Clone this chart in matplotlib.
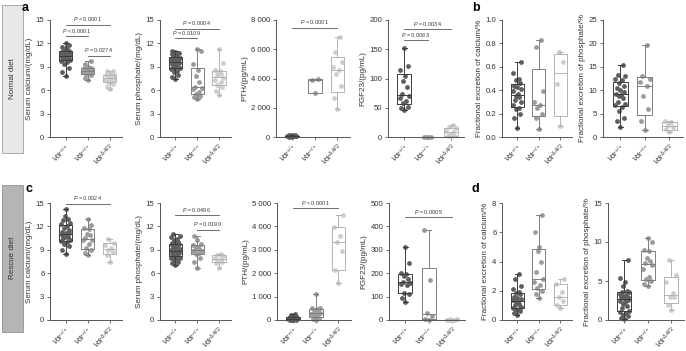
import numpy as np
import matplotlib
matplotlib.use("Agg")
import matplotlib.pyplot as plt
from matplotlib.patches import Rectangle

plt.rcParams['font.family'] = ['Liberation Sans', 'DejaVu Sans']
plt.rcParams['mathtext.fontset'] = 'custom'
plt.rcParams['mathtext.rm'] = 'Liberation Sans'
plt.rcParams['mathtext.it'] = 'Liberation Sans:italic'
plt.rcParams['mathtext.bf'] = 'Liberation Sans:bold'

groups = [r'$\mathit{Vdr}^{+/+}$', r'$\mathit{Vdr}^{-/-}$', r'$\mathit{Vdr}^{\Delta AF2}$']

# normal diet
ca_normal = [
    [7.8, 8.3, 8.8, 9.3, 9.6, 9.8, 9.9, 10.0, 10.0, 10.1, 10.2, 10.3, 10.4, 10.4, 10.5, 10.5,
     10.6, 10.7, 10.8, 10.9, 11.0, 11.1, 11.2, 11.4, 11.6, 11.8, 12.0],
    [7.3, 7.6, 7.9, 8.1, 8.2, 8.3, 8.4, 8.5, 8.5, 8.6, 8.7, 8.8, 8.9, 9.0, 9.3, 9.7],
    [6.1, 6.4, 6.8, 7.0, 7.1, 7.3, 7.4, 7.5, 7.6, 7.7, 7.8, 7.9, 8.0, 8.2, 8.4, 8.5],
]
pi_normal = [
    [7.5, 7.7, 8.0, 8.3, 8.5, 8.7, 8.8, 8.9, 9.0, 9.2, 9.3, 9.4, 9.5, 9.6, 9.6, 9.7, 9.8,
     9.9, 10.0, 10.1, 10.2, 10.2, 10.3, 10.5, 10.6, 10.8, 10.9, 11.0],
    [4.9, 5.1, 5.3, 5.5, 5.8, 6.1, 6.3, 6.4, 7.0, 7.8, 8.6, 9.4, 11.0, 11.3],
    [5.4, 5.9, 6.4, 6.7, 7.0, 7.3, 7.6, 7.9, 8.1, 8.2, 8.5, 8.6, 9.5, 11.3],
]
pth_normal = [
    [20, 30, 40, 45, 50, 55, 60, 65, 70, 75, 80, 90, 100, 110, 130, 160],
    [3000, 3900, 3950],
    [1900, 2700, 3500, 4300, 4600, 4800, 5100, 5840, 6850],
]
fgf_normal = [
    [47, 50, 52, 58, 62, 66, 70, 74, 85, 95, 105, 115, 122, 152],
    [0, 0, 0, 0],
    [1, 2, 3, 5, 8, 10, 15, 17, 20],
]
feca_normal = [
    [0.08, 0.16, 0.2, 0.24, 0.25, 0.27, 0.3, 0.32, 0.34, 0.35, 0.37, 0.39, 0.41, 0.43, 0.44,
     0.46, 0.49, 0.5, 0.55, 0.64],
    [0.07, 0.16, 0.2, 0.25, 0.27, 0.3, 0.39, 0.77, 0.83],
    [0.09, 0.45, 0.64, 0.73],
]
fepi_normal = [
    [2.2, 3.5, 4.0, 5.5, 6.5, 6.8, 7.0, 7.5, 8.3, 8.8, 9.0, 9.2, 9.6, 10.0, 10.5, 11.0, 11.6,
     12.2, 12.5, 13.0, 13.3, 15.4],
    [1.6, 3.4, 6.0, 8.8, 10.9, 11.8, 12.5, 13.1, 19.6],
    [1.1, 1.7, 2.2, 2.6, 3.1, 3.5],
]

# rescue diet
ca_rescue = [
    [8.4, 9.0, 9.5, 9.8, 10.0, 10.1, 10.3, 10.5, 10.6, 10.7, 10.8, 10.9, 11.1, 11.2, 11.3,
     11.5, 11.8, 12.0, 12.3, 12.5, 12.8, 13.0, 13.3, 14.2],
    [8.3, 8.6, 9.0, 9.2, 9.8, 10.2, 10.3, 10.5, 10.9, 11.0, 11.7, 11.8, 12.2, 13.0],
    [7.4, 8.3, 8.7, 9.0, 9.2, 9.6, 9.9, 10.4],
]
pi_rescue = [
    [7.0, 7.3, 7.5, 7.7, 7.8, 7.9, 8.0, 8.1, 8.2, 8.3, 8.4, 8.5, 8.6, 8.7, 8.8, 8.8, 8.9, 8.9,
     9.0, 9.1, 9.2, 9.3, 9.4, 9.5, 9.6, 9.7, 9.8, 9.9, 10.0, 10.2, 10.4, 10.6, 10.8, 11.0],
    [6.7, 7.5, 8.0, 8.4, 8.6, 8.8, 8.9, 9.0, 9.1, 9.2, 9.4, 9.6, 9.8, 10.2, 10.8],
    [6.7, 7.3, 7.5, 7.6, 7.8, 7.9, 8.2, 8.35, 8.4],
]
pth_rescue = [
    [5, 10, 15, 20, 25, 30, 40, 45, 50, 60, 70, 80, 90, 110, 130, 160, 200, 240],
    [20, 60, 100, 150, 200, 250, 280, 300, 350, 420, 470, 500, 520, 1100],
    [1570, 2150, 2930, 3330, 3600, 3960, 4480],
]
fgf_rescue = [
    [79, 95, 110, 115, 150, 155, 158, 164, 175, 190, 195, 202, 245, 310],
    [0, 5, 18, 30, 170, 385],
    [0, 0, 1, 1, 2, 2, 3, 3],
]
feca_rescue = [
    [0.34, 0.45, 0.6, 0.7, 0.75, 0.8, 0.9, 1.0, 1.1, 1.2, 1.25, 1.35, 1.45, 1.5, 1.6, 1.75,
     1.85, 1.9, 2.1, 2.3, 2.8, 3.13],
    [1.53, 1.8, 2.0, 2.2, 2.4, 2.6, 2.81, 3.3, 4.0, 4.75, 5.0, 6.0, 7.15],
    [0.8, 1.03, 1.3, 1.6, 1.9, 2.47, 2.8],
]
fepi_rescue = [
    [0.13, 0.3, 0.5, 0.7, 0.9, 1.0, 1.2, 1.5, 1.8, 2.0, 2.3, 2.5, 2.6, 2.8, 2.9, 3.0, 3.1, 3.2,
     3.3, 3.6, 3.65, 3.7, 4.3, 4.9, 5.4, 7.7],
    [4.3, 4.6, 5.0, 5.2, 5.5, 6.5, 7.0, 7.3, 7.6, 8.0, 8.8, 9.0, 10.0, 10.5],
    [1.29, 1.9, 2.9, 3.0, 3.4, 4.9, 5.8, 7.7],
]

# p-value brackets: (from group, to group, height, text)
p_ca_normal = [(1, 3, 14.4, "< 0.000 1"), (1, 2, 12.9, "< 0.000 1"), (2, 3, 10.4, "= 0.027 4")]
p_pi_normal = [(1, 3, 13.9, "= 0.000 4"), (1, 2, 12.7, "= 0.010 9")]
p_pth_normal = [(1, 3, 7470, "= 0.000 1")]
p_fgf_normal = [(1, 3, 184, "= 0.003 4"), (1, 2, 165, "= 0.008 3")]
p_ca_rescue = [(1, 3, 14.9, "= 0.002 4")]
p_pi_rescue = [(1, 3, 13.4, "= 0.049 6"), (2, 3, 11.6, "= 0.019 0")]
p_pth_rescue = [(1, 3, 4790, "< 0.000 1")]
p_fgf_rescue = [(1, 3, 439, "= 0.000 5")]

pt_col = ['#5e5e5e', '#9b9b9b', '#cdcdcd']
box_col = ['#3c3c3c', '#7e7e7e', '#b4b4b4']
jit = [0, -0.14, 0.14, -0.07, 0.07, -0.2, 0.2, -0.1, 0.1, -0.04, 0.04, -0.17, 0.17]

W, H = 686, 351
fig = plt.figure(figsize=(W / 100, H / 100), dpi=100)


def rect(l, t, w, h):
    return [l / W, 1 - (t + h) / H, w / W, h / H]


def panel(r, data, ylabel, yticks, ylabels, pvals=()):
    ax = fig.add_axes(rect(*r))
    for i, vals in enumerate(data):
        v = np.sort(np.array(vals, dtype=float))
        x = [i + 1 + jit[k % len(jit)] for k in range(len(v))]
        ax.scatter(x, v, s=12, color=pt_col[i], lw=0, zorder=2, clip_on=False)
        q1, med, q3 = np.percentile(v, [25, 50, 75], method='weibull')
        st = [dict(med=med, q1=q1, q3=q3, whislo=v.min(), whishi=v.max(), fliers=[])]
        c = box_col[i]
        ax.bxp(st, positions=[i + 1], widths=0.6, showfliers=False, capwidths=0.22,
               boxprops=dict(color=c, lw=0.7), medianprops=dict(color=c, lw=0.7),
               whiskerprops=dict(color=c, lw=0.7), capprops=dict(color=c, lw=0.7),
               manage_ticks=False, zorder=3)
    ax.set_xlim(0.3, 3.55)
    ax.set_ylim(0, yticks[-1])
    ax.set_yticks(yticks)
    ax.set_yticklabels(ylabels)
    ax.set_xticks([1, 2, 3])
    ax.set_xticklabels(groups, rotation=45, ha='right', rotation_mode='anchor')
    for s in ['top', 'right']:
        ax.spines[s].set_visible(False)
    for s in ['left', 'bottom']:
        ax.spines[s].set_color('#555555')
        ax.spines[s].set_linewidth(0.7)
    ax.tick_params(length=2.5, width=0.6, color='#555555', labelsize=5.6, pad=1.5,
                   labelcolor='#333333')
    ax.tick_params(axis='x', labelsize=5.2, pad=0.8)
    ax.set_ylabel(ylabel, fontsize=5.8, color='#333333', labelpad=2)
    top = yticks[-1]
    for a, b, y, txt in pvals:
        ax.plot([a, b], [y, y], color='#555555', lw=0.6, clip_on=False)
        ax.text((a + b) / 2, y + top * 0.012, r'$P$ ' + txt, fontsize=3.9,
                ha='center', va='bottom', color='#333333')
    return ax


t1, t2, hh = 20, 203, 117
panel((50, t1, 72, hh), ca_normal, 'Serum calcium/(mg/dL)', [0, 3, 6, 9, 12, 15],
      ['0', '3', '6', '9', '12', '15'], p_ca_normal)
panel((160, t1, 71, hh), pi_normal, 'Serum phosphate/(mg/dL)', [0, 3, 6, 9, 12, 15],
      ['0', '3', '6', '9', '12', '15'], p_pi_normal)
panel((276, t1, 74, hh), pth_normal, 'PTH/(pg/mL)', [0, 2000, 4000, 6000, 8000],
      ['0', '2 000', '4 000', '6 000', '8 000'], p_pth_normal)
panel((388, t1, 76, hh), fgf_normal, 'FGF23/(pg/mL)', [0, 50, 100, 150, 200],
      ['0', '50', '100', '150', '200'], p_fgf_normal)
panel((502, t1, 70, hh), feca_normal, 'Fractional excretion of calcium/%',
      [0, 0.2, 0.4, 0.6, 0.8, 1.0], ['0.0', '0.2', '0.4', '0.6', '0.8', '1.0'])
panel((603, t1, 80, hh), fepi_normal, 'Fractional excretion of phosphate/%',
      [0, 5, 10, 15, 20, 25], ['0', '5', '10', '15', '20', '25'])

panel((50, t2, 72, hh), ca_rescue, 'Serum calcium/(mg/dL)', [0, 3, 6, 9, 12, 15],
      ['0', '3', '6', '9', '12', '15'], p_ca_rescue)
panel((160, t2, 71, hh), pi_rescue, 'Serum phosphate/(mg/dL)', [0, 3, 6, 9, 12, 15],
      ['0', '3', '6', '9', '12', '15'], p_pi_rescue)
panel((277, t2, 74, hh), pth_rescue, 'PTH/(pg/mL)', [0, 1000, 2000, 3000, 4000, 5000],
      ['0', '1 000', '2 000', '3 000', '4 000', '5 000'], p_pth_rescue)
panel((389, t2, 76, hh), fgf_rescue, 'FGF23/(pg/mL)', [0, 100, 200, 300, 400, 500],
      ['0', '100', '200', '300', '400', '500'], p_fgf_rescue)
panel((502, t2, 70, hh), feca_rescue, 'Fractional excretion of calcium/%',
      [0, 2, 4, 6, 8], ['0', '2', '4', '6', '8'])
panel((608, t2, 76, hh), fepi_rescue, 'Fractional excretion of phosphate/%',
      [0, 5, 10, 15], ['0', '5', '10', '15'])

# side labels
fig.patches.append(Rectangle((2 / W, 1 - 153 / H), 21 / W, 148 / H, transform=fig.transFigure,
                             facecolor='#e8e8e8', edgecolor='#a0a0a0', lw=0.6))
fig.patches.append(Rectangle((2 / W, 1 - 332 / H), 21 / W, 147 / H, transform=fig.transFigure,
                             facecolor='#b5b5b5', edgecolor='#909090', lw=0.6))
fig.text(12.5 / W, 1 - 79 / H, 'Normal diet', rotation=90, ha='center', va='center',
         fontsize=5.8, color='#333333')
fig.text(12.5 / W, 1 - 258 / H, 'Rescue diet', rotation=90, ha='center', va='center',
         fontsize=5.8, color='#333333')

for lab, x, y in [('a', 22, 8), ('b', 472, 8), ('c', 25, 189), ('d', 472, 189)]:
    fig.text(x / W, 1 - y / H, lab, fontsize=9, fontweight='bold', ha='left', va='center')

fig.savefig('out.png', dpi=100)
